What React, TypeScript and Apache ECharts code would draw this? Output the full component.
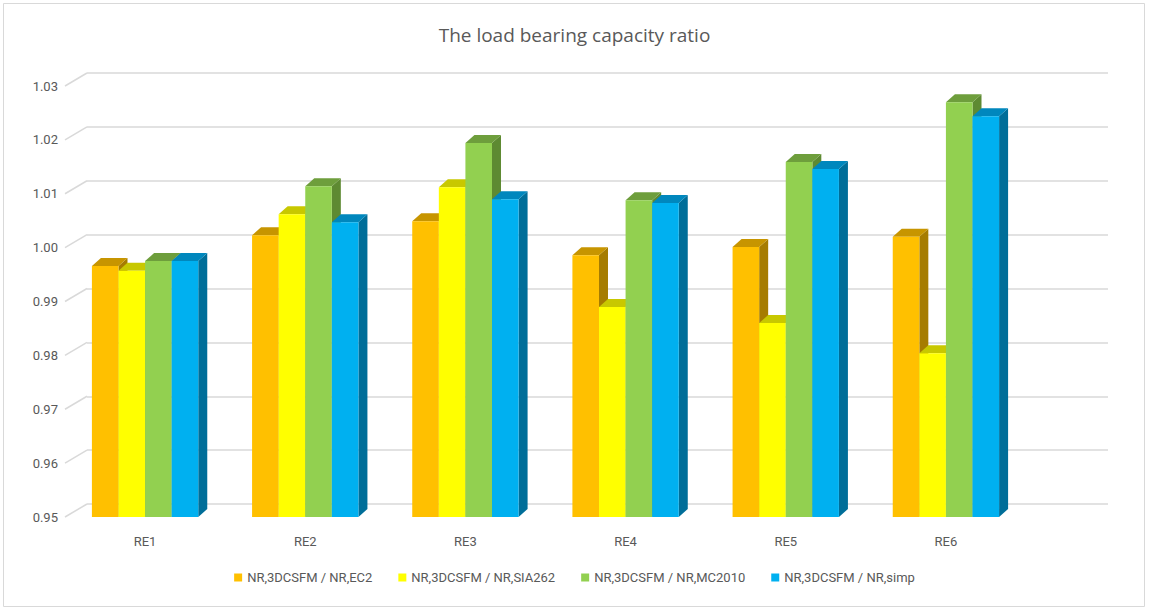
import React, { useEffect, useRef } from "react";
import * as echarts from "echarts";

const categories = ["RE1", "RE2", "RE3", "RE4", "RE5", "RE6"];
const seriesNames = [
  "NR,3DCSFM / NR,EC2",
  "NR,3DCSFM / NR,SIA262",
  "NR,3DCSFM / NR,MC2010",
  "NR,3DCSFM / NR,simp",
];
const ec2 = [0.9966, 1.0023, 1.0049, 0.9986, 1.0001, 1.002];
const sia262 = [0.9957, 1.0062, 1.0112, 0.989, 0.986, 0.9804];
const mc2010 = [0.9975, 1.0114, 1.0194, 1.0088, 1.0159, 1.027];
const simp = [0.9975, 1.0047, 1.009, 1.0083, 1.0146, 1.0244];
const yTicks = [0.95, 0.96, 0.97, 0.98, 0.99, 1.0, 1.01, 1.02, 1.03];

const palette = [
  { front: "#FFC000", top: "#C79500", side: "#A67C00" },
  { front: "#FFFF00", top: "#C8C800", side: "#A6A600" },
  { front: "#92D050", top: "#6E9E3C", side: "#5E8A32" },
  { front: "#00B0F0", top: "#0087BD", side: "#006E99" },
];
const allData = [ec2, sia262, mc2010, simp];
const YMIN = 0.95;
const YMAX = 1.03;

export default function App() {
  const ref = useRef<HTMLDivElement>(null);
  useEffect(() => {
    document.body.style.margin = "0";
    const chart = echarts.init(ref.current!, null, { renderer: "svg" });
    const depthX = 9;
    const depthY = -8;
    const barSeries = allData.map((vals, si) => ({
      type: "custom",
      name: seriesNames[si],
      xAxisIndex: 0,
      yAxisIndex: 0,
      itemStyle: { color: palette[si].front },
      data: vals.map((v, i) => [i, v]),
      z: 3,
      renderItem: (params: any, api: any) => {
        const band = api.size([1, 0])[0];
        const bw = band * 0.166;
        const top = api.coord([api.value(0), api.value(1)]);
        const base = api.coord([api.value(0), YMIN]);
        const x0 = top[0] - 2 * bw + si * bw;
        const x1 = x0 + bw;
        const yt = top[1];
        const yb = base[1];
        const c = palette[si];
        return {
          type: "group",
          children: [
            {
              type: "polygon",
              shape: { points: [[x1, yt], [x1 + depthX, yt + depthY], [x1 + depthX, yb + depthY], [x1, yb]] },
              style: { fill: c.side },
            },
            {
              type: "polygon",
              shape: { points: [[x0, yt], [x0 + depthX, yt + depthY], [x1 + depthX, yt + depthY], [x1, yt]] },
              style: { fill: c.top },
            },
            { type: "rect", shape: { x: x0, y: yt, width: bw, height: yb - yt }, style: { fill: c.front } },
          ],
        };
      },
    }));
    chart.setOption({
      animation: false,
      backgroundColor: "#fff",
      title: {
        text: "The load bearing capacity ratio",
        left: "center",
        top: 20,
        textStyle: { fontFamily: "Open Sans", fontSize: 19, fontWeight: "normal", color: "#595959" },
      },
      legend: {
        bottom: 22,
        left: "center",
        icon: "rect",
        itemWidth: 8,
        itemHeight: 8,
        itemGap: 26,
        data: seriesNames,
        textStyle: { fontFamily: "Roboto", fontSize: 13, color: "#595959" },
      },
      graphic: [
        {
          type: "rect",
          shape: { x: 3.5, y: 3.5, width: 1141, height: 603 },
          style: { fill: "none", stroke: "#d9d9d9", lineWidth: 1 },
          silent: true,
        },
      ],
      grid: [
        { left: 65, top: 86, width: 961, height: 431 },
        { left: 87, top: 73, width: 1021, height: 431 },
      ],
      xAxis: [
        {
          type: "category",
          data: categories,
          gridIndex: 0,
          axisLine: { show: false },
          axisTick: { show: false },
          axisLabel: { margin: 18, fontFamily: "Roboto", fontSize: 13, color: "#595959" },
        },
        { type: "category", data: categories, gridIndex: 1, show: false },
      ],
      yAxis: [
        {
          type: "value",
          gridIndex: 0,
          min: YMIN,
          max: YMAX,
          interval: 0.01,
          splitLine: { show: false },
          axisLabel: {
            margin: 7,
            fontFamily: "Roboto",
            fontSize: 13,
            color: "#595959",
            formatter: (v: number) => v.toFixed(2),
          },
        },
        {
          type: "value",
          gridIndex: 1,
          min: YMIN,
          max: YMAX,
          interval: 0.01,
          axisLabel: { show: false },
          axisLine: { show: false },
          splitLine: { lineStyle: { color: "#d9d9d9", width: 1.5 } },
        },
      ],
      series: [
        {
          type: "custom",
          xAxisIndex: 0,
          yAxisIndex: 0,
          silent: true,
          z: 1,
          data: yTicks.map((t) => [0, t]),
          renderItem: (params: any, api: any) => {
            const p = api.coord([0, api.value(1)]);
            const x = params.coordSys.x;
            return {
              type: "line",
              shape: { x1: x, y1: p[1], x2: x + 22, y2: p[1] - 13 },
              style: { stroke: "#d9d9d9", lineWidth: 1.5 },
            };
          },
        },
        ...barSeries,
      ],
    });
    return () => chart.dispose();
  }, []);
  return <div ref={ref} style={{ width: 1149, height: 611 }} />;
}
